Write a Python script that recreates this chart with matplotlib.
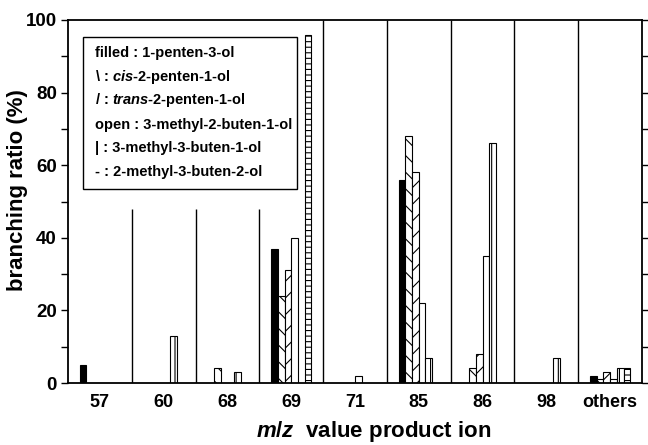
import matplotlib
matplotlib.use("Agg")
import matplotlib.pyplot as plt
from matplotlib.patches import Rectangle
import numpy as np

plt.rcParams['font.family'] = ['Liberation Sans', 'DejaVu Sans']
plt.rcParams['font.weight'] = 'bold'
plt.rcParams['mathtext.fontset'] = 'custom'
plt.rcParams['mathtext.it'] = 'Liberation Sans:italic:bold'
plt.rcParams['mathtext.rm'] = 'Liberation Sans:bold'
plt.rcParams['hatch.linewidth'] = 0.8

groups = ['57', '60', '68', '69', '71', '85', '86', '98', 'others']
filled = [5, 0, 0, 37, 0, 56, 0, 0, 2]
cis = [0, 0, 4, 24, 0, 68, 4, 0, 1]
trans = [0, 0, 0, 31, 0, 58, 8, 0, 3]
open_ = [0, 0, 0, 40, 2, 22, 35, 0, 1]
vert = [0, 13, 3, 0, 0, 7, 66, 7, 4]
horiz = [0, 0, 0, 96, 0, 0, 0, 0, 4]

series = [filled, cis, trans, open_, vert, horiz]
styles = [dict(facecolor='black', hatch=None),
          dict(facecolor='white', hatch='\\\\'),
          dict(facecolor='white', hatch='//'),
          dict(facecolor='white', hatch=None),
          dict(facecolor='white', hatch='|||'),
          dict(facecolor='white', hatch='---')]

legend_lines = ['filled : 1-penten-3-ol',
                r'\ : $\mathit{cis}$-2-penten-1-ol',
                r'/ : $\mathit{trans}$-2-penten-1-ol',
                'open : 3-methyl-2-buten-1-ol',
                '| : 3-methyl-3-buten-1-ol',
                '- : 2-methyl-3-buten-2-ol']

fig = plt.figure(figsize=(6.48, 4.45), dpi=100)
ax = fig.add_axes([68/648, 1-383/445, (642-68)/648, (383-20)/445])

x = np.arange(len(groups))
w = 0.105
for i, (vals, st) in enumerate(zip(series, styles)):
    h = [v if v > 0 else np.nan for v in vals]
    ax.bar(x + (i - 2.5) * w, h, width=w, facecolor=st['facecolor'],
           edgecolor='black', linewidth=0.8, hatch=st['hatch'], zorder=2)

ax.vlines([0.5, 1.5, 2.5], 0, 48, color='black', linewidth=1.0)
ax.vlines([3.5, 4.5, 5.5, 6.5, 7.5], 0, 100, color='black', linewidth=1.0)

ax.set_xlim(-0.5, 8.5)
ax.set_ylim(0, 100)
ax.set_xticks(x)
ax.set_xticklabels(groups, fontsize=13, fontweight='bold')
ax.tick_params(axis='x', length=0, pad=8)
ax.set_yticks([0, 20, 40, 60, 80, 100])
ax.set_yticks([10, 30, 50, 70, 90], minor=True)
ax.tick_params(axis='y', which='both', direction='out', left=True, right=True,
               length=5, width=1.0, labelsize=13.5, pad=3)
for lab in ax.get_yticklabels():
    lab.set_fontweight('bold')
for s in ax.spines.values():
    s.set_linewidth(1.3)

ax.set_ylabel('branching ratio (%)', fontsize=16, fontweight='bold')
ax.yaxis.set_label_coords((18 - 68) / 574, (383 - 190) / 363)
ax.set_xlabel(r'$\mathit{m/z}$  value product ion', fontsize=16, fontweight='bold')
ax.xaxis.set_label_coords((374 - 68) / 574, (383 - 432) / 363)
ax.xaxis.label.set_va('center')
ax.yaxis.label.set_va('center')

ax.add_patch(Rectangle((0.026, 0.534), 0.373, 0.419, transform=ax.transAxes,
                       facecolor='white', edgecolor='black', linewidth=1.0, zorder=3))
ys = [0.909, 0.843, 0.780, 0.711, 0.647, 0.581]
for t, yy in zip(legend_lines, ys):
    ax.text(0.047, yy, t, transform=ax.transAxes, fontsize=10.5, fontweight='bold',
            va='center', ha='left', zorder=4)

fig.savefig('out.png', dpi=100)
